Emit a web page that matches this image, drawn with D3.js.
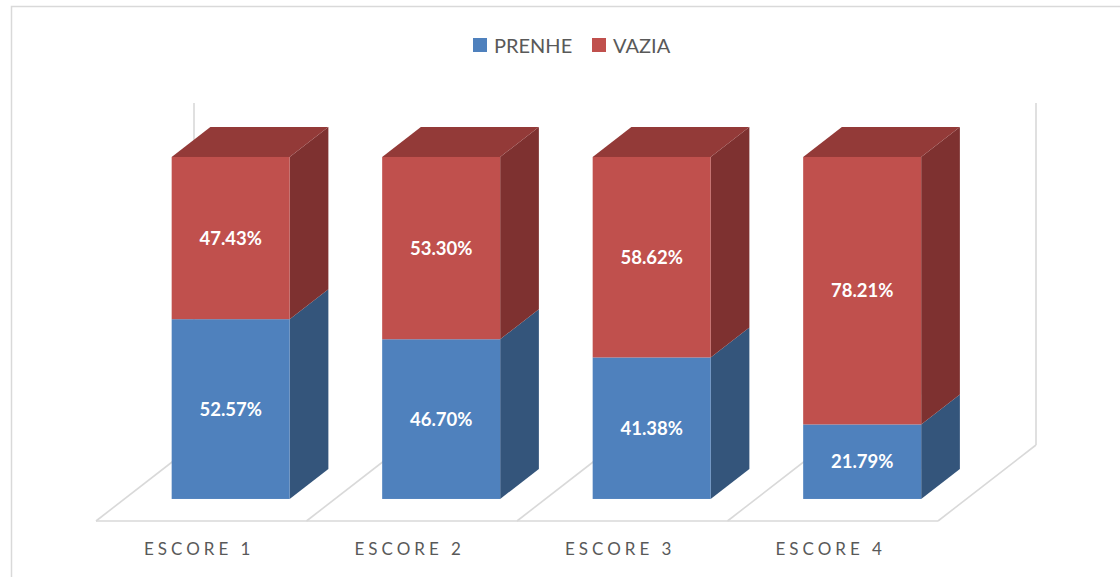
<!DOCTYPE html>
<html>
<head>
<meta charset="utf-8">
<script src="https://cdn.jsdelivr.net/npm/d3@7"></script>
<style>
  html, body { margin: 0; padding: 0; background: #ffffff; }
  svg { display: block; }
</style>
</head>
<body>
<svg id="chart" width="1120" height="577"></svg>
<script>
// ---- data ----
const categories = ["ESCORE 1", "ESCORE 2", "ESCORE 3", "ESCORE 4"];
const seriesNames = ["PRENHE", "VAZIA"];
const prenhe = [0.5257, 0.4670, 0.4138, 0.2179];
const vazia  = [0.4743, 0.5330, 0.5862, 0.7821];

// ---- styles ----
const frontColors = { PRENHE: "#4f81bd", VAZIA: "#c0504d" };
const sideColors  = { PRENHE: "#34557b", VAZIA: "#7e3130" };
const topColors   = { PRENHE: "#3e6594", VAZIA: "#933a38" };
const gridColor = "#d9d9d9";
const textColor = "#595959";

const svg = d3.select("#chart");

// chart border
svg.append("rect")
  .attr("x", 11.5).attr("y", 6.5)
  .attr("width", 1130).attr("height", 600)
  .attr("fill", "none").attr("stroke", gridColor).attr("stroke-width", 1.5);

// ---- 3D geometry ----
const floorY = 521;
const depth = { dx: 98, dy: -76 };
const barD0 = 0.29, barD1 = 0.685;
const plotHeight = 342;

const x = d3.scaleBand().domain(categories).range([96, 938]).paddingInner(0).paddingOuter(0);
const barW = 118;
const y = d3.scaleLinear().domain([0, 1]).range([0, plotHeight]);

function shift(d) { return [depth.dx * d, depth.dy * d]; }

const g = svg.append("g");
const [bx, by] = shift(1);
const floorLeft = x.range()[0], floorRight = x.range()[1];
const lineStyle = sel => sel.attr("stroke", gridColor).attr("stroke-width", 1.6).attr("fill", "none");

g.append("line").attr("x1", floorLeft).attr("y1", floorY).attr("x2", floorRight).attr("y2", floorY).call(lineStyle);
const dividers = categories.map(c => x(c)).concat([floorRight]);
g.selectAll("line.div").data(dividers).join("line").attr("class", "div")
  .attr("x1", d => d).attr("y1", floorY)
  .attr("x2", d => d + bx).attr("y2", floorY + by)
  .call(lineStyle);
[floorLeft + bx, floorRight + bx].forEach(vx => {
  g.append("line").attr("x1", vx).attr("y1", floorY + by).attr("x2", vx).attr("y2", floorY + by - y(1)).call(lineStyle);
});

// ---- stacked data ----
const rows = categories.map((c, i) => ({ cat: c, PRENHE: prenhe[i], VAZIA: vazia[i] }));
const stack = d3.stack().keys(seriesNames)(rows);

const [fx, fy] = shift(barD0);
const [kx, ky] = shift(barD1);
const ddx = kx - fx, ddy = ky - fy;

const bars = svg.append("g");
rows.forEach((row, i) => {
  const x0 = x(row.cat) + (x.bandwidth() - barW) / 2 + fx + 1;
  const base = floorY + fy;
  stack.forEach(layer => {
    const key = layer.key;
    const [v0, v1] = layer[i];
    const yb = base - y(v0), yt = base - y(v1);
    bars.append("polygon")
      .attr("points", [[x0 + barW, yb], [x0 + barW + ddx, yb + ddy], [x0 + barW + ddx, yt + ddy], [x0 + barW, yt]].join(" "))
      .attr("fill", sideColors[key]);
    if (v1 >= 0.9999) {
      bars.append("polygon")
        .attr("points", [[x0, yt], [x0 + barW, yt], [x0 + barW + ddx, yt + ddy], [x0 + ddx, yt + ddy]].join(" "))
        .attr("fill", topColors[key]);
    }
    bars.append("rect")
      .attr("x", x0).attr("y", yt).attr("width", barW).attr("height", yb - yt)
      .attr("fill", frontColors[key]);
    bars.append("text")
      .attr("x", x0 + barW / 2).attr("y", (yt + yb) / 2)
      .attr("dy", "0.36em")
      .attr("text-anchor", "middle")
      .attr("font-family", "Lato, 'Open Sans', sans-serif")
      .attr("font-weight", "bold")
      .attr("font-size", 18.5)
      .attr("fill", "#ffffff")
      .text(d3.format(".2%")(v1 - v0));
  });
});

// category labels
svg.append("g").selectAll("text").data(categories).join("text")
  .attr("x", d => x(d) + x.bandwidth() / 2 - 2)
  .attr("y", 555)
  .attr("text-anchor", "middle")
  .attr("font-family", "Lato, 'Open Sans', sans-serif")
  .attr("font-size", 17)
  .attr("letter-spacing", "4px")
  .attr("fill", textColor)
  .text(d => d);

// legend
const legend = svg.append("g");
const legendPos = [473, 592];
seriesNames.forEach((s, i) => {
  legend.append("rect").attr("x", legendPos[i]).attr("y", 38).attr("width", 14).attr("height", 14).attr("fill", frontColors[s]);
  legend.append("text").attr("x", legendPos[i] + 21).attr("y", 52.5)
    .attr("font-family", "Lato, 'Open Sans', sans-serif")
    .attr("font-size", 20).attr("fill", textColor).text(s);
});
</script>
</body>
</html>
